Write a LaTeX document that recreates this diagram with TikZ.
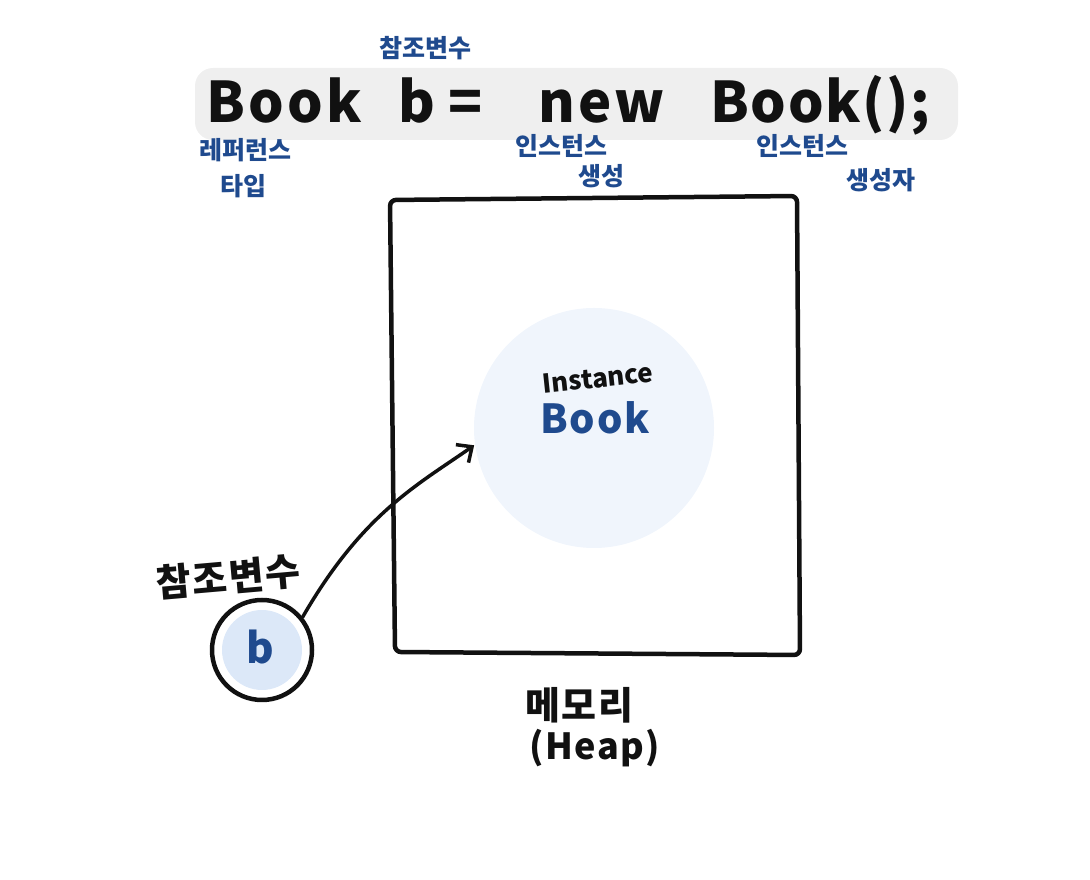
\documentclass[tikz,border=0pt]{standalone}
\usepackage{fontspec}
\setmainfont{Noto Sans CJK KR}
\usetikzlibrary{arrows.meta}
\definecolor{penblue}{HTML}{1F4A8E}
\definecolor{barfill}{HTML}{EFEFEF}
\definecolor{instfill}{HTML}{F0F5FC}
\definecolor{bfill}{HTML}{DCE8F8}
\definecolor{ink}{HTML}{111111}
\tikzset{
  code/.style={anchor=base west, inner sep=0pt, text=ink, font=\fontsize{56}{56}\selectfont\bfseries},
  note/.style={inner sep=0pt, text=penblue, font=\fontsize{25}{25}\selectfont\bfseries},
  big/.style={inner sep=0pt, text=ink, font=\fontsize{38}{38}\selectfont\bfseries},
  pen/.style={draw=ink, line width=4.5pt, line join=round, line cap=round},
}
\begin{document}
\begin{tikzpicture}[x=1pt,y=1pt]
\useasboundingbox (0,0) rectangle (1090,880);
% code bar
\node[fill=barfill, rounded corners=18pt, minimum width=763pt, minimum height=72pt, inner sep=0pt] (bar) at (576.5,776) {};
\node[code] (t1) at (206,757) {\addfontfeatures{LetterSpace=6}Book};
\node[code] (t2) at (398,757) {b};
\node[code] (t3) at (448,757) {=};
\node[code] (t4) at (538,757) {\addfontfeatures{LetterSpace=6}new};
\node[code] (t5) at (710,757) {\addfontfeatures{LetterSpace=3}Book();};
% annotations
\node[note] (n1) at (425,832) {참조변수};
\node[note] (n2) at (245,730) {레퍼런스};
\node[note] (n3) at (243,694) {타입};
\node[note] (n4) at (561,734) {인스턴스};
\node[note] (n5) at (601,704) {생성};
\node[note] (n6) at (802,734) {인스턴스};
\node[note] (n7) at (881,700) {생성자};
% heap rectangle
\draw[pen, rounded corners=6pt] (390,680) -- (797,684) -- (800,225) -- (395,228) -- cycle;
% instance circle
\node[circle, fill=instfill, minimum size=240pt, inner sep=0pt] (inst) at (594,452) {};
\node[inner sep=0pt, text=ink, rotate=6, font=\fontsize{26}{26}\selectfont\bfseries] (inl) at (598,502) {Instance};
\node[inner sep=0pt, text=penblue, font=\fontsize{40}{40}\selectfont\bfseries] (inb) at (595,462) {\addfontfeatures{LetterSpace=4}Book};
% reference variable
\node[circle, pen, minimum size=100pt, inner sep=0pt] (bout) at (262,230) {};
\node[circle, fill=bfill, minimum size=80pt, inner sep=0pt] (bin) at (262,230) {};
\node[inner sep=0pt, text=penblue, font=\fontsize{42}{42}\selectfont\bfseries] (bl) at (260,233) {b};
\node[big, rotate=5] (refl) at (228,303) {\addfontfeatures{LetterSpace=4}참조변수};
% arrow
\draw[draw=ink, line width=3.5pt, line cap=round, -{Straight Barb[length=12pt,width=22pt]}, shorten >=1pt]
  (bout.39) .. controls +(60:120) and +(215:70) .. (inst.188);
% memory label
\node[big] (mem) at (579,175) {\addfontfeatures{LetterSpace=4}메모리};
\node[big, font=\fontsize{36}{36}\selectfont\bfseries] (heapl) at (595,132) {\addfontfeatures{LetterSpace=4}(Heap)};
\end{tikzpicture}
\end{document}
